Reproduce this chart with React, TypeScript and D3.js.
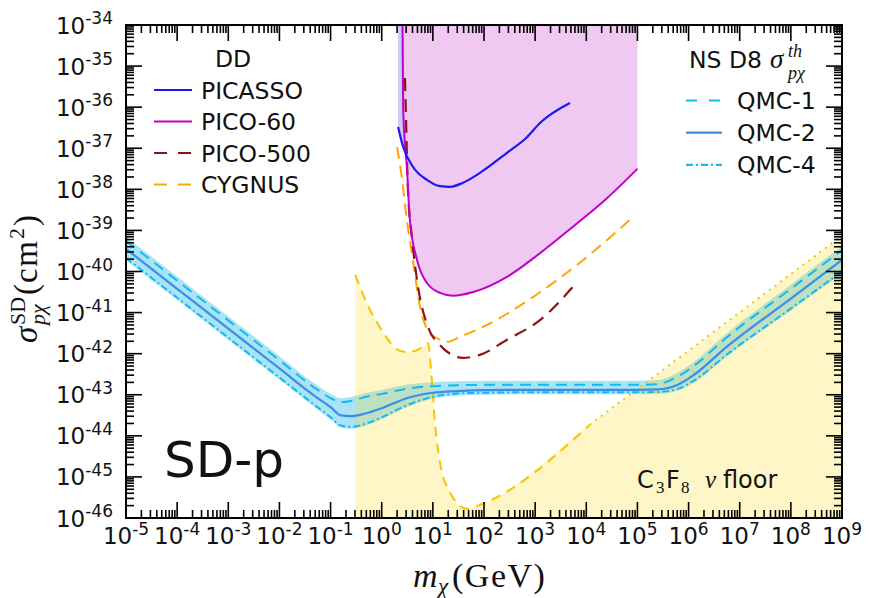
import React, { useRef, useEffect } from "react";
import * as d3 from "d3";

// dark matter mass (GeV) / cross section (cm^2)

// NS D8 theory band
const qmcMass = [1e-5, 1e-4, 1e-3, 1e-2, 0.05, 0.1, 0.158, 0.251, 0.5, 1, 3.16, 10, 31.6, 100, 1e3, 1e4, 1e5, 2.51e5, 6.31e5, 1.26e6, 5.62e6, 1e8, 1e9];
const qmc1 = [5.62e-40, 6.03e-41, 6.46e-42, 6.92e-43, 1.45e-43, 8.32e-44, 6.61e-44, 7.08e-44, 8.91e-44, 1.05e-43, 1.41e-43, 1.62e-43, 1.70e-43, 1.74e-43, 1.74e-43, 1.74e-43, 1.74e-43, 1.82e-43, 2.82e-43, 5.01e-43, 2.51e-42, 3.80e-41, 3.31e-40];
const qmc2 = [3.55e-40, 3.80e-41, 4.07e-42, 4.37e-43, 9.12e-44, 5.01e-44, 3.16e-44, 3.02e-44, 3.55e-44, 4.68e-44, 8.32e-44, 1.12e-43, 1.23e-43, 1.29e-43, 1.32e-43, 1.32e-43, 1.32e-43, 1.35e-43, 1.78e-43, 3.02e-43, 1.48e-42, 2.19e-41, 1.91e-40];
const qmc4 = [2.14e-40, 2.29e-41, 2.45e-42, 2.63e-43, 5.50e-44, 2.82e-44, 1.78e-44, 1.66e-44, 2.00e-44, 2.82e-44, 5.62e-44, 8.91e-44, 1.07e-43, 1.12e-43, 1.15e-43, 1.15e-43, 1.15e-43, 1.17e-43, 1.41e-43, 2.19e-43, 9.55e-43, 1.26e-41, 1.0e-40];

// direct detection
const picassoMass = [2.09, 2.63, 4.07, 7.67, 13.8, 21.9, 38.9, 83.2, 282, 692, 1259, 4786];
const picassoSigma = [3.31e-37, 1.07e-37, 3.55e-38, 1.70e-38, 1.20e-38, 1.15e-38, 1.45e-38, 2.51e-38, 7.76e-38, 1.86e-37, 4.17e-37, 1.26e-36];

const pico60Mass = [2.55, 2.63, 3.13, 3.55, 4.90, 7.67, 13.8, 24.5, 61.7, 282, 1259, 5495, 2.57e4, 1e5];
const pico60Sigma = [1e-34, 8.5e-37, 2.95e-38, 1.82e-39, 1.91e-40, 5.25e-41, 3.02e-41, 2.57e-41, 3.16e-41, 7.41e-41, 2.82e-40, 1.23e-39, 6.17e-39, 3.16e-38];

const pico500Mass = [2.85, 2.99, 3.24, 3.89, 5.13, 8.04, 13.8, 23.7, 38.9, 83.2, 282, 1259, 6607];
const pico500Sigma = [5.13e-36, 4.90e-37, 1.15e-38, 6.92e-40, 4.27e-41, 4.47e-42, 1.62e-42, 9.33e-43, 7.94e-43, 9.33e-43, 2.19e-42, 6.61e-42, 5.62e-41];

const cygnusMass = [2.0, 2.51, 3.09, 3.89, 5.62, 7.94, 13.8, 19.1, 33.9, 95.5, 912, 8710, 7.76e4];
const cygnusSigma = [1.07e-37, 1.70e-38, 1.82e-39, 2.82e-40, 1.38e-41, 3.80e-42, 2.19e-42, 1.95e-42, 2.57e-42, 4.47e-42, 2.40e-41, 1.91e-40, 2.0e-39];

// C3F8 neutrino floor
const floorMass = [0.302, 0.589, 1.15, 1.82, 2.88, 4.47, 7.08, 8.04, 9.55, 11.0, 13.8, 21.9, 29.5, 46.8, 83.2, 1.17e4];
const floorSigma = [8.32e-41, 1.17e-41, 2.88e-42, 1.38e-42, 1.10e-42, 1.17e-42, 1.62e-42, 1.82e-42, 2.29e-43, 2.09e-44, 2.19e-45, 4.07e-46, 2.34e-46, 1.66e-46, 2.09e-46, 1.86e-44];
const floorTailMass = [1.17e4, 1e9];
const floorTailSigma = [1.86e-44, 7.41e-40];

const xTickExps = [-5, -4, -3, -2, -1, 0, 1, 2, 3, 4, 5, 6, 7, 8, 9];
const yTickExps = [-46, -45, -44, -43, -42, -41, -40, -39, -38, -37, -36, -35, -34];

const ddLegend = ["PICASSO", "PICO-60", "PICO-500", "CYGNUS"];
const nsLegend = ["QMC-1", "QMC-2", "QMC-4"];

const App = () => {
  const chart = useRef(null);

  useEffect(() => {
    document.body.style.margin = "0";
    const svg = d3.select(chart.current).attr("width", 871).attr("height", 598);
    svg.selectAll("*").remove();

    const L = 126, R = 842, T = 25, B = 518;
    const x = d3.scaleLog().domain([1e-5, 1e9]).range([L, R]);
    const y = d3.scaleLog().domain([1e-46, 1e-34]).range([B, T]);
    const sans = "DejaVu Sans";
    const serif = "Liberation Serif";
    const ink = "#111";

    const zip = (m: number[], s: number[]) => m.map((v, i) => [v, s[i]] as [number, number]);
    const line = d3.line<[number, number]>().x(d => x(d[0])).y(d => y(d[1])).curve(d3.curveMonotoneX);

    svg.append("clipPath").attr("id", "plotclip")
      .append("rect").attr("x", L).attr("y", T).attr("width", R - L).attr("height", B - T);
    const g = svg.append("g").attr("clip-path", "url(#plotclip)");

    // excluded regions
    const above = d3.area<[number, number]>().x(d => x(d[0])).y0(T).y1(d => y(d[1])).curve(d3.curveMonotoneX);
    g.append("path").attr("d", above(zip(picassoMass, picassoSigma))).attr("fill", "#3c3cf0").attr("opacity", 0.28);
    g.append("path").attr("d", above(zip(pico60Mass, pico60Sigma))).attr("fill", "#efc9f1");

    // QMC band
    const qmcBand = qmcMass.map((m, i) => ({ m, hi: qmc1[i], lo: qmc4[i] }));
    const band = d3.area<{ m: number; hi: number; lo: number }>()
      .x(d => x(d.m)).y0(d => y(d.lo) + 2).y1(d => y(d.hi) - 4).curve(d3.curveMonotoneX);
    g.append("path").attr("d", band(qmcBand)).attr("fill", "#a9e3f6");

    // neutrino floor
    const floorAll = zip(floorMass, floorSigma).concat(zip(floorTailMass, floorTailSigma).slice(1));
    const below = d3.area<[number, number]>().x(d => x(d[0])).y0(B).y1(d => y(d[1])).curve(d3.curveMonotoneX);
    g.append("path").attr("d", below(floorAll)).attr("fill", "#ffd700").attr("opacity", 0.22);
    g.append("path").attr("d", line(zip(floorMass, floorSigma))).attr("fill", "none")
      .attr("stroke", "#f5c400").attr("stroke-width", 2).attr("stroke-dasharray", "10,7");
    g.append("path").attr("d", line(zip(floorTailMass, floorTailSigma))).attr("fill", "none")
      .attr("stroke", "#f5c400").attr("stroke-width", 2).attr("stroke-dasharray", "2,5");

    const draw = (m: number[], s: number[], color: string, width: number, dash: string | null) => {
      const p = g.append("path").attr("d", line(zip(m, s))).attr("fill", "none")
        .attr("stroke", color).attr("stroke-width", width);
      if (dash) p.attr("stroke-dasharray", dash);
    };

    draw(qmcMass, qmc1, "#12b9f2", 2, "11,7");
    draw(qmcMass, qmc4, "#12b9f2", 2, "7,3,2,3");
    draw(qmcMass, qmc2, "#3b8ee8", 2.2, null);
    draw(cygnusMass, cygnusSigma, "#ffa500", 2, "12,7");
    draw(pico500Mass, pico500Sigma, "#8b1414", 2.2, "13,8");
    draw(pico60Mass, pico60Sigma, "#c000c8", 2, null);
    draw(picassoMass, picassoSigma, "#1a1af0", 2.2, null);

    // axes
    const ax = svg.append("g").attr("stroke", "black");
    xTickExps.forEach(e => {
      const steps = e < 9 ? [1, 2, 3, 4, 5, 6, 7, 8, 9] : [1];
      steps.forEach(k => {
        const px = x(k * Math.pow(10, e));
        const len = k === 1 ? 16 : 8;
        ax.append("line").attr("x1", px).attr("x2", px).attr("y1", B).attr("y2", B - len).attr("stroke-width", 1.6);
        ax.append("line").attr("x1", px).attr("x2", px).attr("y1", T).attr("y2", T + len).attr("stroke-width", 1.6);
      });
      svg.append("text").attr("x", x(Math.pow(10, e))).attr("y", 544).attr("text-anchor", "middle")
        .attr("font-family", sans).attr("font-size", 23).attr("fill", ink)
        .call(t => {
          t.append("tspan").text("10");
          t.append("tspan").attr("dy", -9.5).attr("font-size", 17).text(e < 0 ? "-" + Math.abs(e) : String(e));
        });
    });
    yTickExps.forEach(e => {
      const steps = e < -34 ? [1, 2, 3, 4, 5, 6, 7, 8, 9] : [1];
      steps.forEach(k => {
        const py = y(k * Math.pow(10, e));
        const len = k === 1 ? 16 : 8;
        ax.append("line").attr("y1", py).attr("y2", py).attr("x1", L).attr("x2", L + len).attr("stroke-width", 1.6);
        ax.append("line").attr("y1", py).attr("y2", py).attr("x1", R).attr("x2", R - len).attr("stroke-width", 1.6);
      });
      svg.append("text").attr("x", 113).attr("y", y(Math.pow(10, e)) + 8.5).attr("text-anchor", "end")
        .attr("font-family", sans).attr("font-size", 23).attr("fill", ink)
        .call(t => {
          t.append("tspan").text("10");
          t.append("tspan").attr("dy", -9.5).attr("font-size", 17).text("-" + Math.abs(e));
        });
    });
    svg.append("rect").attr("x", L).attr("y", T).attr("width", R - L).attr("height", B - T)
      .attr("fill", "none").attr("stroke", "black").attr("stroke-width", 2);

    // axis titles
    const xt = svg.append("g").attr("font-family", serif).attr("fill", ink);
    xt.append("text").attr("x", 413).attr("y", 587).attr("font-size", 34).attr("font-style", "italic").text("m");
    xt.append("text").attr("x", 438).attr("y", 594).attr("font-size", 23).attr("font-style", "italic").text("χ");
    xt.append("text").attr("x", 452).attr("y", 587).attr("font-size", 34).attr("letter-spacing", 1.5).text("(GeV)");

    const yt = svg.append("g").attr("transform", "translate(37,343) rotate(-90)")
      .attr("font-family", serif).attr("fill", ink);
    yt.append("text").attr("x", 0).attr("y", 0).attr("font-size", 33).attr("font-style", "italic").text("σ");
    yt.append("text").attr("x", 18).attr("y", -12).attr("font-size", 22).text("SD");
    yt.append("text").attr("x", 18).attr("y", 8).attr("font-size", 22).attr("font-style", "italic").text("pχ");
    yt.append("text").attr("x", 48).attr("y", 0).attr("font-size", 33).text("(");
    yt.append("text").attr("x", 60).attr("y", 0).attr("font-size", 33).attr("letter-spacing", 1.5).text("cm");
    yt.append("text").attr("x", 104).attr("y", -13).attr("font-size", 22).text("2");
    yt.append("text").attr("x", 117).attr("y", 0).attr("font-size", 33).text(")");

    // DD legend
    svg.append("text").attr("x", 233).attr("y", 67).attr("text-anchor", "middle")
      .attr("font-family", sans).attr("font-size", 23.5).attr("fill", ink).text("DD");
    const ddStyle = [
      { c: "#1a1af0", d: null },
      { c: "#c000c8", d: null },
      { c: "#8b1414", d: "13,11" },
      { c: "#ffa500", d: "13,11" },
    ];
    ddLegend.forEach((name, i) => {
      const ly = 90 + i * 31.5;
      const l = svg.append("line").attr("x1", 154).attr("x2", 192).attr("y1", ly).attr("y2", ly)
        .attr("stroke", ddStyle[i].c).attr("stroke-width", 2.2);
      if (ddStyle[i].d) l.attr("stroke-dasharray", ddStyle[i].d);
      svg.append("text").attr("x", 201).attr("y", ly + 8.5).attr("font-family", sans).attr("font-size", 23.5)
        .attr("fill", ink).text(name);
    });

    // NS legend
    svg.append("text").attr("x", 689).attr("y", 68).attr("font-family", sans).attr("font-size", 23.5)
      .attr("fill", ink).text("NS D8");
    svg.append("text").attr("x", 770).attr("y", 68).attr("font-family", serif).attr("font-size", 27)
      .attr("font-style", "italic").attr("fill", ink).text("σ");
    svg.append("text").attr("x", 788).attr("y", 57).attr("font-family", serif).attr("font-size", 18)
      .attr("font-style", "italic").attr("fill", ink).text("th");
    svg.append("text").attr("x", 788).attr("y", 79).attr("font-family", serif).attr("font-size", 18)
      .attr("font-style", "italic").attr("fill", ink).text("pχ");
    const nsStyle = [
      { c: "#12b9f2", d: "11,12" },
      { c: "#3b8ee8", d: null },
      { c: "#12b9f2", d: "7,3,2,3" },
    ];
    nsLegend.forEach((name, i) => {
      const ly = 100.5 + i * 32.2;
      const l = svg.append("line").attr("x1", 686).attr("x2", 722).attr("y1", ly).attr("y2", ly)
        .attr("stroke", nsStyle[i].c).attr("stroke-width", 2.2);
      if (nsStyle[i].d) l.attr("stroke-dasharray", nsStyle[i].d);
      svg.append("text").attr("x", 737).attr("y", ly + 8.5).attr("font-family", sans).attr("font-size", 23.5)
        .attr("fill", ink).text(name);
    });

    // annotations
    svg.append("text").attr("x", 164).attr("y", 477).attr("font-family", sans).attr("font-size", 50)
      .attr("fill", ink).text("SD-p");
    const fl = svg.append("g").attr("fill", ink);
    fl.append("text").attr("x", 637).attr("y", 488).attr("font-family", sans).attr("font-size", 24).text("C");
    fl.append("text").attr("x", 656).attr("y", 493).attr("font-family", serif).attr("font-size", 17).text("3");
    fl.append("text").attr("x", 666).attr("y", 488).attr("font-family", sans).attr("font-size", 24).text("F");
    fl.append("text").attr("x", 681).attr("y", 493).attr("font-family", serif).attr("font-size", 17).text("8");
    fl.append("text").attr("x", 705).attr("y", 488).attr("font-family", serif).attr("font-size", 25).attr("font-style", "italic").text("ν");
    fl.append("text").attr("x", 723).attr("y", 488).attr("font-family", sans).attr("font-size", 24).text("floor");
  });

  return (
    <div id="chartArea">
      <svg ref={chart}></svg>
    </div>
  );
};

export default App;
